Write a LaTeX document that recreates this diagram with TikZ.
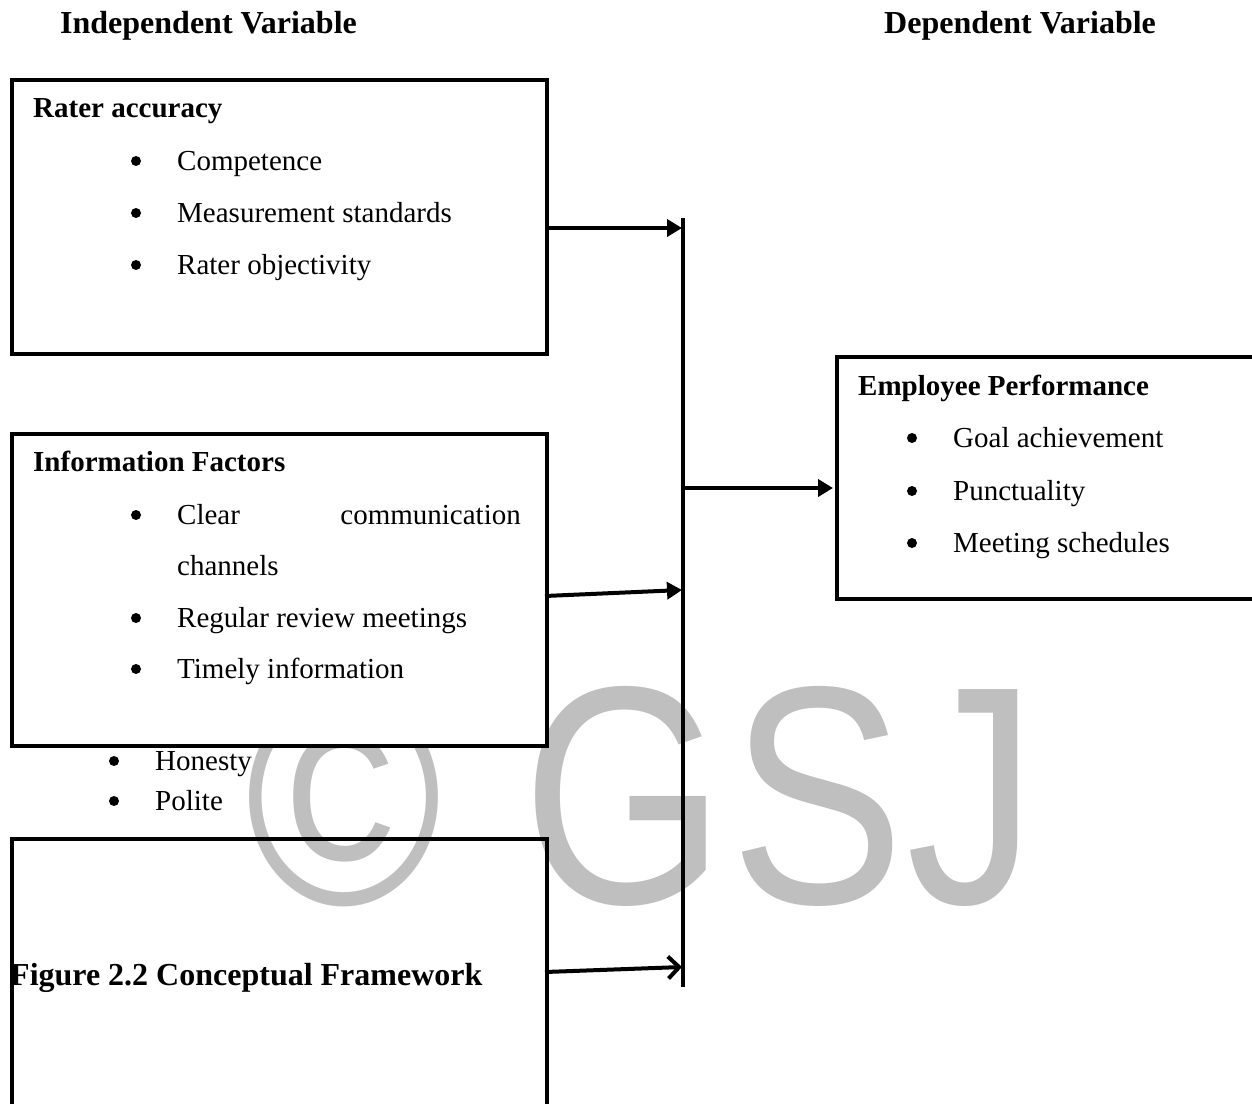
\documentclass[tikz,border=0pt]{standalone}
\usepackage{fontspec}
\setmainfont{Liberation Serif}
\newfontfamily\wmfont{Liberation Sans}
\usetikzlibrary{arrows.meta}
\definecolor{wmgray}{RGB}{191,191,191}
\begin{document}
\begin{tikzpicture}[x=1pt,y=-1pt,
  boxst/.style={draw, line width=4pt, rectangle, inner sep=0pt, anchor=north west},
  txt/.style={anchor=base west, inner sep=0pt, font=\fontsize{29}{35}\selectfont},
  hd/.style={anchor=base west, inner sep=0pt, font=\fontsize{29}{35}\selectfont\bfseries},
  big/.style={anchor=base west, inner sep=0pt, font=\fontsize{32}{38}\selectfont\bfseries},
  dot/.style={circle, fill=black, inner sep=0pt, minimum size=10pt},
  conn/.style={line width=4pt, -{Triangle[length=15pt,width=17pt]}},
  openconn/.style={line width=4pt, -{Straight Barb[length=11pt,width=22pt]}},
  wm/.style={text=wmgray, inner sep=0pt, anchor=base, font=\fontsize{311}{311}\wmfont}
]
\useasboundingbox (0,0) rectangle (1252,1103);
\clip (0,0) rectangle (1252,1103);

% watermark
\node[wm] (wmc) at (344,904) {\scalebox{0.86}[1]{©}};
\node[wm] (wmg) at (624,903) {\scalebox{0.84}[1]{G}};
\node[wm] (wms) at (818,903) {\scalebox{0.84}[1]{S}};
\node[wm] (wmj) at (972,903) {\scalebox{0.84}[1]{J}};

% headings
\node[big] (hiv) at (60,33) {Independent Variable};
\node[big] (hdv) at (884,33) {Dependent Variable};

% boxes
\node[boxst, minimum width=535pt, minimum height=274pt] (box1) at (10,78) {};
\node[boxst, fill=white, minimum width=535pt, minimum height=312pt] (box2) at (10,432) {};
\node[boxst, minimum width=535pt, minimum height=300pt] (box3) at (10,837) {};
\node[boxst, minimum width=440pt, minimum height=242pt] (box4) at (835,355) {};

% box 1 text
\node[hd] (t1) at (33,117) {Rater accuracy};
\node[dot] (b11) at (136,161) {};
\node[txt] (i11) at (177,170) {Competence};
\node[dot] (b12) at (136,213) {};
\node[txt] (i12) at (177,222) {Measurement standards};
\node[dot] (b13) at (136,265) {};
\node[txt] (i13) at (177,274) {Rater objectivity};

% box 2 text
\node[hd] (t2) at (33,471) {Information Factors};
\node[dot] (b21) at (136,515) {};
\node[txt] (i21a) at (177,524) {Clear};
\node[txt, anchor=base east] (i21b) at (521,524) {communication};
\node[txt] (i21c) at (177,575) {channels};
\node[dot] (b22) at (136,618) {};
\node[txt] (i22) at (177,627) {Regular review meetings};
\node[dot] (b23) at (136,669) {};
\node[txt] (i23) at (177,678) {Timely information};

% loose bullets
\node[dot] (b31) at (114,761) {};
\node[txt] (i31) at (155,770) {Honesty};
\node[dot] (b32) at (114,801) {};
\node[txt] (i32) at (155,810) {Polite};

% caption
\node[big] (cap) at (10,985) {Figure 2.2 Conceptual Framework};

% employee box text
\node[hd] (t4) at (858,395) {Employee Performance};
\node[dot] (b41) at (912,438) {};
\node[txt] (i41) at (953,447) {Goal achievement};
\node[dot] (b42) at (912,491) {};
\node[txt] (i42) at (953,500) {Punctuality};
\node[dot] (b43) at (912,543) {};
\node[txt] (i43) at (953,552) {Meeting schedules};

% bar and connectors
\coordinate (bt) at (683,218);
\coordinate (bb) at (683,987);
\draw[line width=4pt] (bt) -- (bb);

\coordinate (a1s) at (545,228);
\coordinate (a1e) at (682,228);
\coordinate (a2s) at (545,596);
\coordinate (a2e) at (682,590);
\coordinate (a3s) at (545,972);
\coordinate (a3e) at (682,967);
\coordinate (a4s) at (683,488);
\coordinate (a4e) at (833,488);

\draw[conn] (a1s) -- (a1e);
\draw[conn] (a2s) -- (a2e);
\draw[openconn] (a3s) -- (a3e);
\draw[conn] (a4s) -- (a4e);
\end{tikzpicture}
\end{document}
